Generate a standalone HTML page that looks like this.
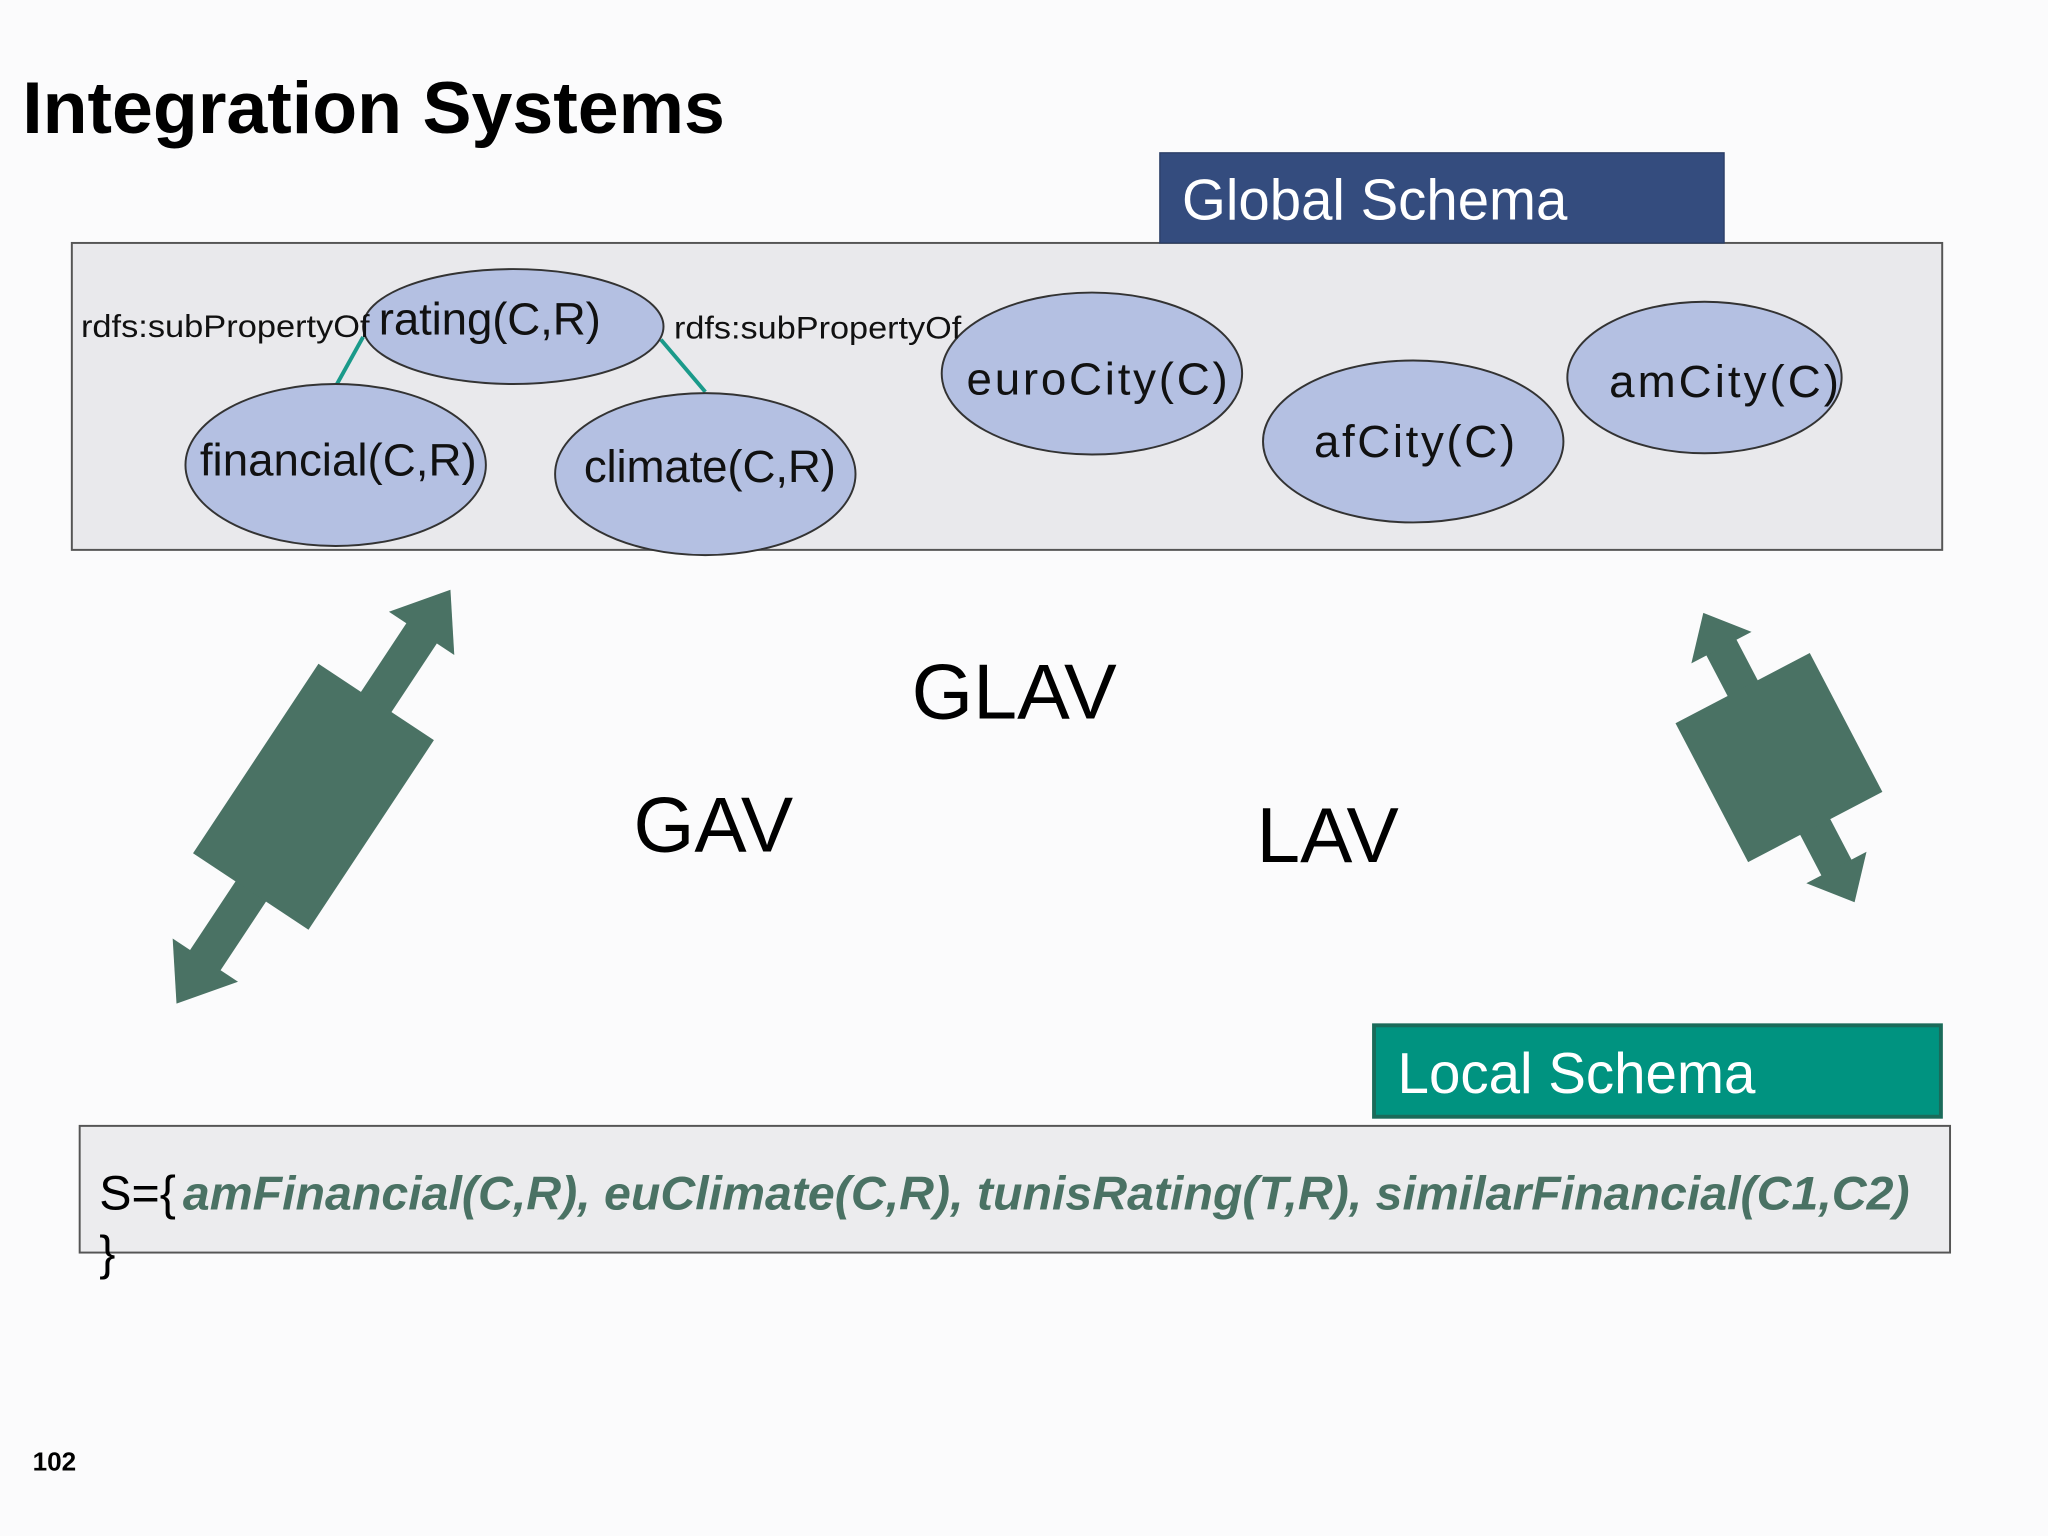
<!DOCTYPE html>
<html><head><meta charset="utf-8"><style>html,body{margin:0;padding:0;background:#fbfbfc}svg{display:block}</style></head>
<body>
<svg width="2048" height="1536" viewBox="0 0 1568 1176" preserveAspectRatio="none" xmlns="http://www.w3.org/2000/svg" font-family="Liberation Sans, Arial, sans-serif">
<rect width="1568" height="1176" fill="#fbfbfc"/>
<text x="17" y="102" font-size="56" font-weight="bold" fill="#000" textLength="538" lengthAdjust="spacingAndGlyphs">Integration Systems</text>
<rect x="55" y="186" width="1432" height="235" fill="#e9e9ec" stroke="#555" stroke-width="1.5"/>
<rect x="888" y="117" width="432" height="69" fill="#344c7e" stroke="#2a3d66"/>
<text x="905" y="168" font-size="44" fill="#fff" textLength="295" lengthAdjust="spacingAndGlyphs">Global Schema</text>
<line x1="278" y1="258" x2="258" y2="294" stroke="#1a9a8a" stroke-width="3"/>
<line x1="506" y1="260" x2="540" y2="300" stroke="#1a9a8a" stroke-width="3"/>
<g fill="#b4c0e2" stroke="#333" stroke-width="1.5">
<ellipse cx="393" cy="250" rx="115" ry="44"/>
<ellipse cx="257" cy="356" rx="115" ry="62"/>
<ellipse cx="540" cy="363" rx="115" ry="62"/>
<ellipse cx="836" cy="286" rx="115" ry="62"/>
<ellipse cx="1082" cy="338" rx="115" ry="62"/>
<ellipse cx="1305" cy="289" rx="105" ry="58"/>
</g>
<g font-size="35" fill="#111" lengthAdjust="spacingAndGlyphs">
<text x="290" y="256" textLength="170">rating(C,R)</text>
<text x="153" y="364" textLength="212">financial(C,R)</text>
<text x="447" y="369" textLength="193">climate(C,R)</text>
<text x="740" y="302" textLength="200">euroCity(C)</text>
<text x="1006" y="350" textLength="154">afCity(C)</text>
<text x="1232" y="304" textLength="176">amCity(C)</text>
</g>
<g font-size="24" fill="#111">
<text x="62" y="258" textLength="221" lengthAdjust="spacingAndGlyphs">rdfs:subPropertyOf</text>
<text x="516" y="259" textLength="220" lengthAdjust="spacingAndGlyphs">rdfs:subPropertyOf</text>
</g>
<g fill="#4a7264">
<g transform="translate(240,610) rotate(-56.5)">
<rect x="-160" y="-14" width="320" height="28"/>
<polygon points="-190,0 -150,-30 -150,30"/>
<polygon points="190,0 150,-30 150,30"/>
<rect x="-87" y="-53" width="174" height="106"/>
</g>
<g transform="translate(1362,580) rotate(62.4)">
<rect x="-105" y="-13" width="210" height="26"/>
<polygon points="-125,0 -95,-26 -95,26"/>
<polygon points="125,0 95,-26 95,26"/>
<rect x="-60" y="-58" width="120" height="116"/>
</g>
</g>
<g font-size="60" fill="#000">
<text x="698" y="550" textLength="157" lengthAdjust="spacingAndGlyphs">GLAV</text>
<text x="485" y="652">GAV</text>
<text x="962" y="660">LAV</text>
</g>
<rect x="1052" y="785" width="434" height="70" fill="#009380" stroke="#1a6b5a" stroke-width="3"/>
<text x="1070" y="837" font-size="44" fill="#fff" textLength="274" lengthAdjust="spacingAndGlyphs">Local Schema</text>
<rect x="61" y="862" width="1432" height="97" fill="#ececee" stroke="#555" stroke-width="1.5"/>
<text x="76" y="926" font-size="37" fill="#000">S={</text>
<text x="140" y="926" fill="#4a7264" font-style="italic" font-weight="bold" font-size="36" textLength="1322" lengthAdjust="spacingAndGlyphs">amFinancial(C,R), euClimate(C,R), tunisRating(T,R), similarFinancial(C1,C2)</text>
<text x="76" y="972" font-size="37" fill="#000">}</text>
<text x="25" y="1126" font-size="20" font-weight="bold" fill="#000">102</text>
</svg>
</body></html>
